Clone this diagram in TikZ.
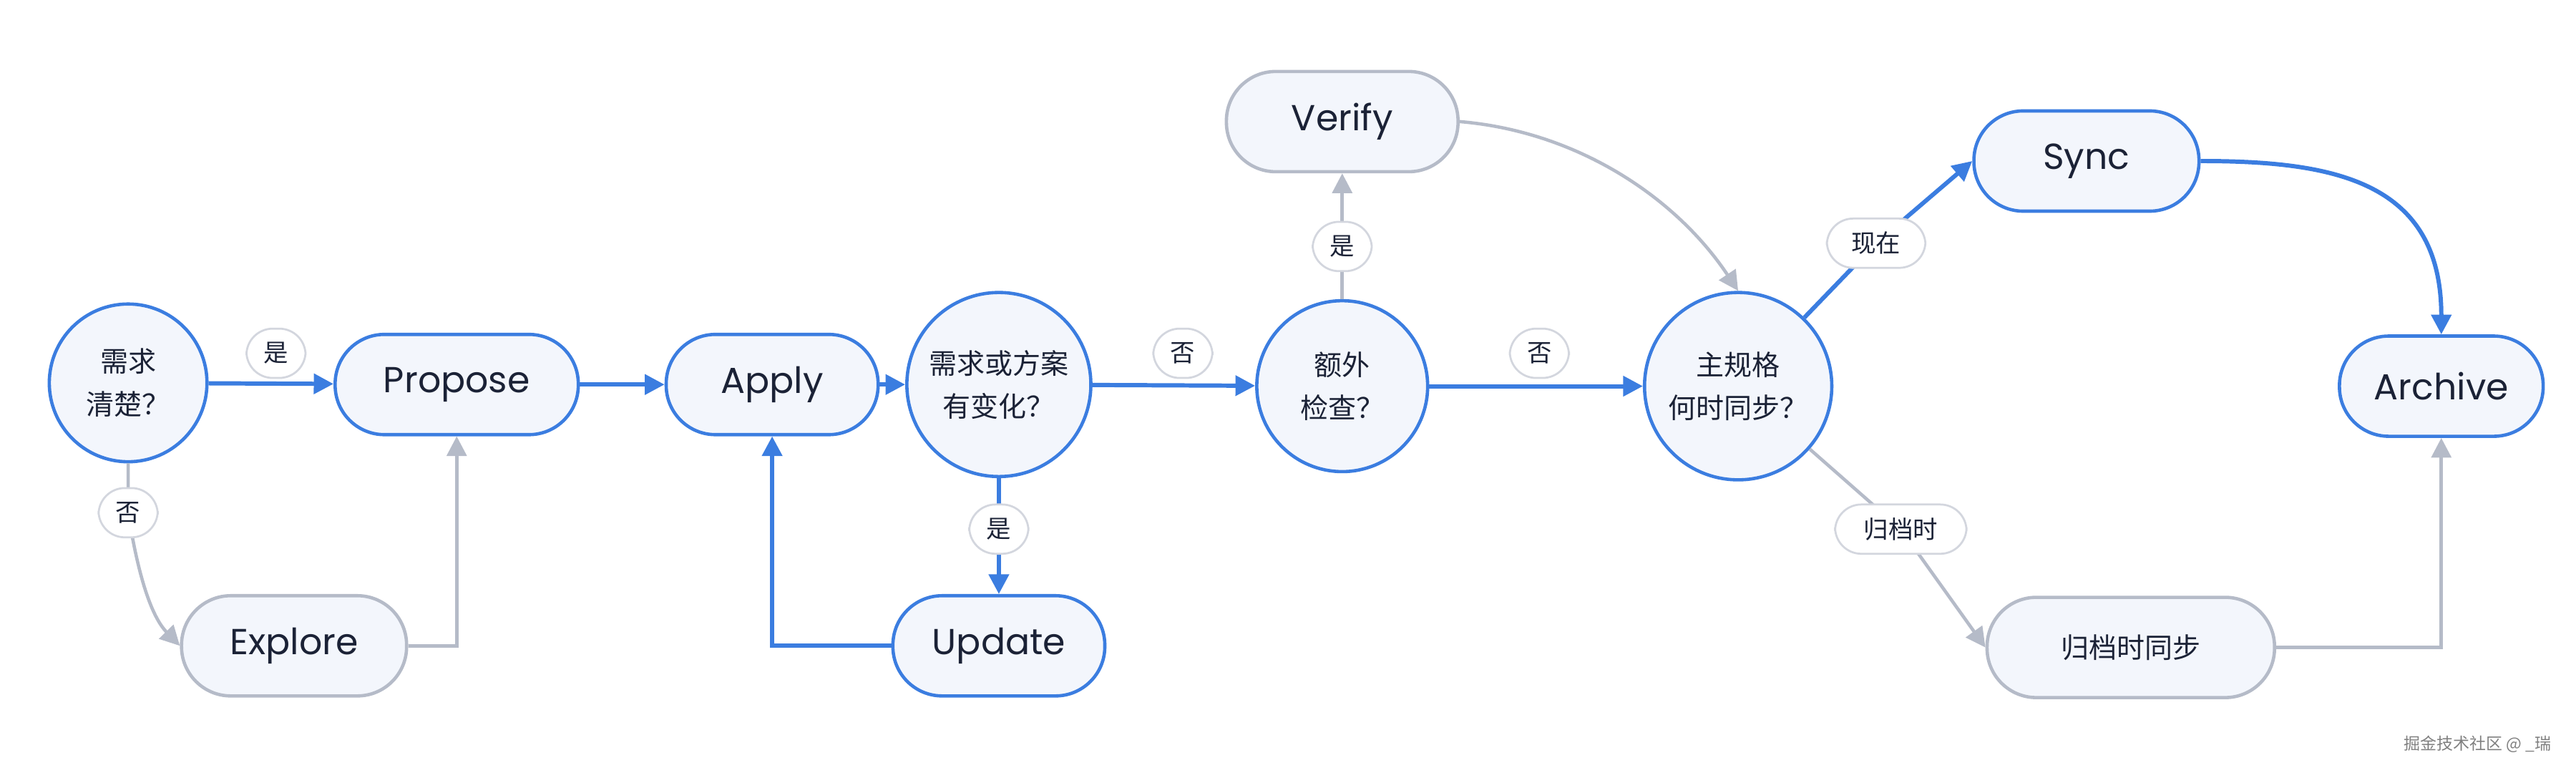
\documentclass[tikz,border=0pt]{standalone}
\usepackage{fontspec}
\setmainfont{Poppins}
\newfontfamily\cjk{Noto Sans CJK SC}
\usepackage{tikz}
\usetikzlibrary{arrows.meta,positioning}
\definecolor{flowblue}{HTML}{3B7DE0}
\definecolor{flowgray}{HTML}{B5BBC8}
\definecolor{boxfill}{HTML}{F3F6FC}
\definecolor{inkdark}{HTML}{1B2236}
\begin{document}
\begin{tikzpicture}[x=0.5pt, y=-0.5pt, >={Triangle[length=6pt,width=6pt]}, semithick,
  phase/.style={draw=flowblue, line width=1pt, fill=boxfill, rounded corners=15pt, text=inkdark, font=\fontsize{11}{13}\selectfont, minimum height=30.5pt},
  idle/.style={phase, draw=flowgray},
  ask/.style={circle, draw=flowblue, line width=1pt, fill=boxfill, text=inkdark, align=center, inner sep=0pt, font=\cjk\fontsize{8.5}{13}\selectfont},
  tag/.style={draw=flowgray!60, fill=white, rounded corners=8pt, text=inkdark, font=\cjk\fontsize{7.5}{9}\selectfont, minimum height=15pt, minimum width=18pt},
  go/.style={->, draw=flowblue, line width=1.3pt},
  alt/.style={->, draw=flowgray, line width=1pt}]
	\useasboundingbox (0,0) rectangle (1568,470);
	% decisions
	\node[ask, minimum size=48pt] (Clear) at (78,233)  {需求\\清楚？};
	\node[ask, minimum size=56pt] (Change) at (608,234) {需求或方案\\有变化？};
	\node[ask, minimum size=52pt] (Check) at (817,235) {额外\\检查？};
	\node[ask, minimum size=57pt] (When) at (1058,235) {主规格\\何时同步？};
	% phases
	\node[phase, minimum width=74pt] (Propose) at (278,234) {Propose};
	\node[phase, minimum width=64.5pt] (Apply) at (470,234) {Apply};
	\node[phase, minimum width=64.5pt] (Update) at (608,393) {Update};
	\node[idle, minimum width=70.5pt] (Verify) at (817,74) {Verify};
	\node[idle, minimum width=68.5pt] (Explore) at (179,393) {Explore};
	\node[phase, minimum width=68.5pt] (Sync) at (1270,98) {Sync};
	\node[phase, minimum width=62pt] (Archive) at (1486,235) {Archive};
	\node[idle, minimum width=87.5pt, font=\cjk\fontsize{8.5}{11}\selectfont] (Late) at (1297,394) {归档时同步};
	% edges
	\draw[go] (Clear) -- (Propose);
	\draw[go] (Propose) -- (Apply);
	\draw[go] (Apply) -- (Change);
	\draw[go] (Change) -- (Update);
	\draw[go] (Update.west) -| (Apply.south);
	\draw[go] (Change) -- (Check);
	\draw[go] (Check) -- (When);
	\draw[go] (When) -- (1142,148) -- (Sync.west);
	\draw[go] (Sync.east) .. controls (1420,98) and (1486,110) .. (Archive.north);
	\draw[alt] (Clear.south) -- (78,312) .. controls (84,350) and (92,375) .. (Explore.west);
	\draw[alt] (Explore.east) -| (Propose.south);
	\draw[alt] (Check) -- (Verify);
	\draw[alt] (Verify.east) .. controls (960,80) and (1020,120) .. (When.north);
	\draw[alt] (When) -- (1157,322) -- (Late.west);
	\draw[alt] (Late.east) -| (Archive.south);
	% labels
	\node[tag] (yes1) at (168,215) {是};
	\node[tag] (no1) at (78,312) {否};
	\node[tag] (yes2) at (608,322) {是};
	\node[tag] (no2) at (720,215) {否};
	\node[tag] (yes3) at (817,150) {是};
	\node[tag] (no3) at (937,215) {否};
	\node[tag, minimum width=30pt] (now) at (1142,148) {现在};
	\node[tag, minimum width=40pt] (atarch) at (1157,322) {归档时};
	\node[text=gray, font=\cjk\fontsize{5}{6}\selectfont, anchor=east] (mark) at (1560,453) {掘金技术社区 @ \_瑞};
\end{tikzpicture}
\end{document}
